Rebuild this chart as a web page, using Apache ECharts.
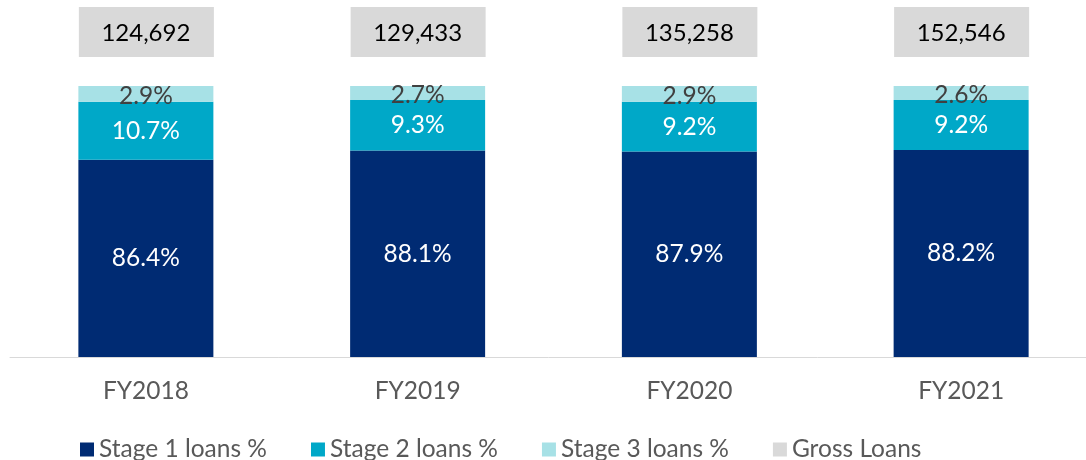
<!DOCTYPE html>
<html>
<head>
<meta charset="utf-8">
<script src="https://cdn.jsdelivr.net/npm/echarts@6/dist/echarts.min.js"></script>
<style>
  html, body { margin: 0; padding: 0; background: #fff; }
  #chart { width: 1086px; height: 460px; }
</style>
</head>
<body>
<div id="chart"></div>
<script>
var categories = ["FY2018", "FY2019", "FY2020", "FY2021"];
var stage1 = [86.4, 88.1, 87.9, 88.2];
var stage2 = [10.7, 9.3, 9.2, 9.2];
var stage3 = [2.9, 2.7, 2.9, 2.6];
var grossLoans = [124692, 129433, 135258, 152546];

var font = "Lato, 'Open Sans', sans-serif";
var chart = echarts.init(document.getElementById("chart"));

function pct(p) {
  return p.value.toFixed(1) + "%";
}

var option = {
  animation: false,
  grid: {
    left: 10,
    top: 86,
    width: 1087,
    height: 271,
    outerBoundsMode: "none",
  },
  legend: {
    left: 75,
    top: 432,
    icon: "rect",
    itemWidth: 14,
    itemHeight: 14,
    itemGap: 44,
    textStyle: { fontFamily: font, fontSize: 24.5, color: "#595959" },
    data: ["Stage 1 loans %", "Stage 2 loans %", "Stage 3 loans %", "Gross Loans"],
  },
  xAxis: {
    type: "category",
    data: categories,
    axisLine: { show: true, lineStyle: { color: "#d9d9d9", width: 1 } },
    axisTick: { show: false },
    axisLabel: {
      margin: 22,
      fontFamily: font,
      fontSize: 24.5,
      color: "#595959",
    },
  },
  yAxis: {
    type: "value",
    min: 50,
    max: 100,
    show: false,
    splitLine: { show: false },
  },
  series: [
    {
      name: "Stage 1 loans %",
      type: "bar",
      stack: "loans",
      barWidth: 135,
      data: stage1,
      itemStyle: { color: "#002b73" },
      label: {
        show: true,
        position: "inside",
        formatter: pct,
        fontFamily: font,
        fontSize: 24.5,
        color: "#ffffff",
      },
    },
    {
      name: "Stage 2 loans %",
      type: "bar",
      stack: "loans",
      data: stage2,
      itemStyle: { color: "#00a8c8" },
      label: {
        show: true,
        position: "inside",
        formatter: pct,
        fontFamily: font,
        fontSize: 24.5,
        color: "#ffffff",
      },
    },
    {
      name: "Stage 3 loans %",
      type: "bar",
      stack: "loans",
      data: stage3,
      itemStyle: { color: "#a7e1e6" },
      label: {
        show: true,
        position: "inside",
        offset: [0, 2],
        formatter: pct,
        fontFamily: font,
        fontSize: 24.5,
        color: "#404040",
      },
    },
    {
      name: "Gross Loans",
      type: "custom",
      itemStyle: { color: "#d9d9d9" },
      encode: { x: 0, y: 1 },
      data: grossLoans.map(function (v, i) {
        return [i, v];
      }),
      renderItem: function (params, api) {
        var x = api.coord([api.value(0), 100])[0];
        return {
          type: "group",
          children: [
            {
              type: "rect",
              shape: { x: x - 67, y: 7, width: 135, height: 50 },
              style: { fill: "#d9d9d9" },
            },
            {
              type: "text",
              style: {
                x: x,
                y: 33,
                text: api.value(1).toLocaleString("en-US"),
                align: "center",
                verticalAlign: "middle",
                fontFamily: font,
                fontSize: 24,
                fill: "#000000",
              },
            },
          ],
        };
      },
    },
  ],
};

chart.setOption(option);
window.addEventListener("resize", function () {
  chart.resize();
});
</script>
</body>
</html>
